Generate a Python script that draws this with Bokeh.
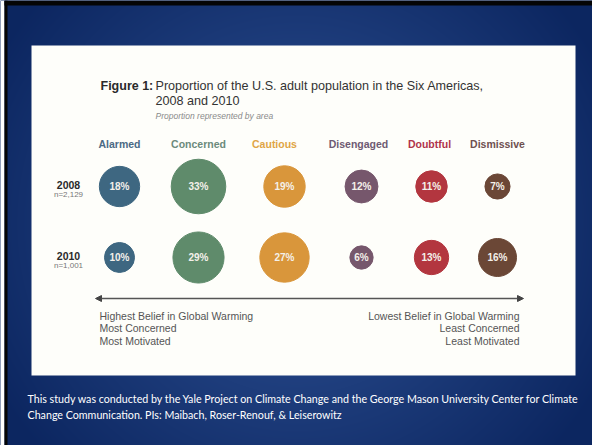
import numpy as np
from bokeh.plotting import figure
from bokeh.models import ColumnDataSource, Range1d, Label, Arrow, NormalHead
from bokeh.core.properties import value
from bokeh.embed import file_html
from bokeh.resources import INLINE

# ---- data ----
segments = ["Alarmed", "Concerned", "Cautious", "Disengaged", "Doubtful", "Dismissive"]
pct_2008 = [18, 33, 19, 12, 11, 7]
pct_2010 = [10, 29, 27, 6, 13, 16]
years = ["2008", "2010"]
sample_sizes = ["n=2,129", "n=1,001"]

# ---- styles / layout ----
fill_colors = ["#3e6781", "#5f8b6b", "#d9963b", "#76576c", "#b3363f", "#6b4736"]
label_colors = ["#4b6a84", "#6c8a7c", "#e0a545", "#6e5a72", "#b0334a", "#6e5050"]
col_x = [119, 198, 284, 361, 431, 497]
label_x = [119, 198, 274, 358, 429, 497]
row_y = [186, 257]
label_y = 143
size_k = 9.5

W, H = 592, 445
p = figure(width=W, height=H, x_range=Range1d(0, W), y_range=Range1d(H, 0),
           output_backend="svg", toolbar_location=None, min_border=0)
p.axis.visible = False
p.grid.visible = False
p.outline_line_color = None
p.background_fill_color = "#1a3a7a"
p.border_fill_color = "#1a3a7a"

# background vignette
yy, xx = np.mgrid[0:H, 0:W]
d = np.sqrt(((xx - W / 2) / (W / 1.7)) ** 2 + ((yy - H / 2) / (H / 1.3)) ** 2)
t = np.clip(d, 0, 1)[..., None]
light = np.array([48, 84, 152])
dark = np.array([12, 38, 96])
rgb = light * (1 - t) + dark * t
img = np.empty((H, W), dtype=np.uint32)
view = img.view(dtype=np.uint8).reshape((H, W, 4))
view[..., :3] = rgb.astype(np.uint8)
view[..., 3] = 255
p.image_rgba(image=[img], x=0, y=0, dw=W, dh=H)

# slide frame edges
p.quad(left=0, right=4, top=0, bottom=H, fill_color="#ffffff", line_color=None)
p.quad(left=4, right=7, top=0, bottom=H, fill_color="#050505", line_color=None)
p.quad(left=4, right=W, top=0, bottom=5, fill_color="#050505", line_color=None)

# white panel
p.quad(left=31, right=575, top=45, bottom=375, fill_color="#fefefa", line_color=None)

# title
fnt = "Liberation Sans"
p.add_layout(Label(x=100, y=85, text="Figure 1:", text_font=fnt, text_font_size="12.5px",
                   text_font_style="bold", text_color="#2a2a2a", text_baseline="middle"))
p.add_layout(Label(x=155, y=85, text="Proportion of the U.S. adult population in the Six Americas,",
                   text_font=fnt, text_font_size="12.6px", text_color="#333333", text_baseline="middle"))
p.add_layout(Label(x=155, y=100, text="2008 and 2010", text_font=fnt, text_font_size="12.6px",
                   text_color="#333333", text_baseline="middle"))
p.add_layout(Label(x=155, y=115, text="Proportion represented by area", text_font=fnt,
                   text_font_size="8.5px", text_font_style="italic", text_color="#8a8a8a",
                   text_baseline="middle"))

# column labels
lab_src = ColumnDataSource(dict(x=label_x, y=[label_y] * len(segments), text=segments, color=label_colors))
p.text(x="x", y="y", text="text", text_color="color", source=lab_src, text_font=value(fnt),
       text_font_size="10.5px", text_font_style="bold", text_align="center", text_baseline="middle")

# circles
for yi, vals in zip(row_y, [pct_2008, pct_2010]):
    src = ColumnDataSource(dict(
        x=col_x, y=[yi] * len(vals),
        size=[size_k * np.sqrt(v) for v in vals],
        color=fill_colors,
        text=[f"{v}%" for v in vals]))
    p.scatter(x="x", y="y", size="size", fill_color="color", line_color="color", source=src)
    p.text(x="x", y="y", text="text", source=src, text_color="#f4f0ea", text_font=value(fnt),
           text_font_size="10px", text_font_style="bold", text_align="center", text_baseline="middle")

# row labels
for yi, yr, n in zip(row_y, years, sample_sizes):
    p.add_layout(Label(x=68, y=yi - 2, text=yr, text_font=fnt, text_font_size="10.5px",
                       text_font_style="bold", text_color="#2a2a2a", text_align="center",
                       text_baseline="middle"))
    p.add_layout(Label(x=68, y=yi + 8, text=n, text_font=fnt, text_font_size="8px",
                       text_color="#777777", text_align="center", text_baseline="middle"))

# arrow
p.add_layout(Arrow(start=NormalHead(size=6, fill_color="#444444", line_color="#444444"),
                   end=NormalHead(size=6, fill_color="#444444", line_color="#444444"),
                   x_start=95, y_start=298, x_end=523, y_end=298,
                   line_color="#555555", line_width=1.3))

left_lines = ["Highest Belief in Global Warming", "Most Concerned", "Most Motivated"]
right_lines = ["Lowest Belief in Global Warming", "Least Concerned", "Least Motivated"]
for i, (lt, rt) in enumerate(zip(left_lines, right_lines)):
    yy_ = 315 + i * 12.5
    p.add_layout(Label(x=99, y=yy_, text=lt, text_font=fnt, text_font_size="10.5px",
                       text_color="#555555", text_baseline="middle"))
    p.add_layout(Label(x=519, y=yy_, text=rt, text_font=fnt, text_font_size="10.5px",
                       text_color="#555555", text_baseline="middle", text_align="right"))

# footer
foot = ["This study was conducted by the Yale Project on Climate Change and the George Mason University Center for Climate",
        "Change Communication.  PIs: Maibach, Roser-Renouf, &  Leiserowitz"]
for i, ln in enumerate(foot):
    p.add_layout(Label(x=27, y=398 + i * 16, text=ln, text_font="Lato", text_font_size="10.7px",
                       text_color="#ffffff", text_baseline="middle"))

open("out.html", "w").write(file_html(p, INLINE))
